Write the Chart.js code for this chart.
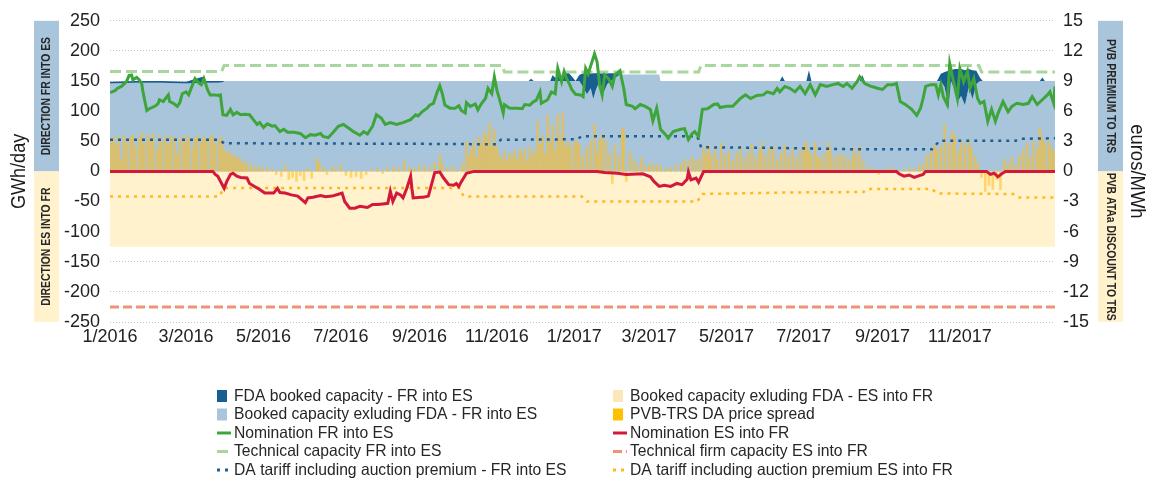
<!DOCTYPE html>
<html>
<head>
<meta charset="utf-8">
<script src="https://cdn.jsdelivr.net/npm/chart.js@4/dist/chart.umd.min.js"></script>
<style>
  html, body { margin: 0; padding: 0; background: #fff; }
</style>
</head>
<body>
<canvas id="chart" width="1151" height="482"></canvas>
<script>
const FONT = '"Liberation Sans", Arial, sans-serif';

// x values are days counted from 1 January 2016
const lastDay = 745;
const monthTickDays = [0, 60, 121, 182, 244, 305, 366, 425, 486, 547, 609, 670];
const monthTickLabels = ['1/2016', '3/2016', '5/2016', '7/2016', '9/2016', '11/2016',
  '1/2017', '3/2017', '5/2017', '7/2017', '9/2017', '11/2017'];

// GWh/day
const nominationFrEs = [[0,131],[4,134],[6,138],[9,141],[13,149],[15,159],[17,160],[18,152],[21,156],[23,152],[25,146],[26,132],[29,101],[31,104],[36,109],[38,113],[39,119],[42,116],[46,127],[47,116],[50,113],[53,108],[55,114],[57,129],[60,132],[62,127],[64,138],[67,154],[70,147],[72,144],[74,154],[77,135],[79,127],[83,127],[85,126],[87,127],[89,94],[92,93],[95,103],[97,94],[100,98],[103,94],[106,95],[110,94],[113,86],[116,78],[118,81],[121,73],[124,79],[128,75],[130,76],[134,66],[137,70],[140,65],[145,65],[150,63],[154,56],[158,61],[162,60],[166,63],[168,58],[172,56],[176,65],[180,75],[184,78],[188,72],[192,66],[197,60],[200,66],[203,62],[207,75],[210,94],[214,88],[217,78],[221,81],[226,78],[231,81],[237,86],[241,94],[243,92],[246,99],[250,105],[252,110],[255,113],[258,132],[260,142],[262,129],[264,110],[268,105],[272,105],[275,109],[277,101],[280,97],[281,114],[284,108],[288,112],[290,102],[293,113],[296,121],[298,138],[301,129],[303,157],[305,135],[308,113],[310,97],[311,111],[315,105],[321,105],[325,104],[327,111],[331,110],[334,116],[336,118],[339,132],[340,113],[345,119],[348,132],[351,129],[353,171],[356,149],[358,166],[360,154],[362,146],[364,136],[367,128],[371,127],[373,124],[375,171],[377,162],[380,182],[382,195],[384,182],[386,144],[388,127],[390,160],[393,154],[396,141],[398,160],[402,167],[405,138],[407,111],[412,108],[414,104],[418,111],[422,108],[426,103],[428,84],[431,105],[434,70],[438,61],[440,55],[444,66],[450,70],[453,71],[456,53],[459,63],[461,66],[464,58],[467,103],[471,104],[476,111],[479,112],[481,106],[486,108],[491,108],[497,121],[501,127],[505,121],[510,126],[515,127],[518,132],[523,129],[526,138],[528,132],[532,141],[536,138],[540,132],[544,141],[548,129],[552,144],[556,127],[560,144],[565,141],[570,144],[574,146],[578,141],[581,146],[585,138],[589,149],[591,157],[595,146],[599,142],[605,138],[609,136],[613,144],[617,144],[620,146],[623,116],[627,111],[629,108],[632,103],[636,93],[639,105],[641,121],[643,141],[647,144],[651,144],[653,127],[655,144],[657,124],[660,111],[662,179],[665,149],[668,121],[670,171],[673,149],[676,166],[678,138],[681,154],[684,121],[686,113],[689,116],[692,83],[695,103],[698,83],[700,96],[704,116],[708,99],[711,108],[715,113],[720,111],[724,113],[727,124],[731,111],[735,119],[739,127],[741,132],[744,113],[745,141]];

const nominationEsFr = [[0,0],[81,0],[83,-5],[85,-8],[90,-28],[92,-17],[95,-5],[97,-3],[100,-8],[103,-10],[108,-11],[110,-20],[114,-25],[118,-30],[122,-36],[129,-36],[132,-28],[134,-35],[138,-36],[143,-39],[148,-41],[154,-52],[156,-44],[160,-43],[166,-40],[170,-42],[175,-41],[180,-38],[183,-36],[185,-50],[189,-61],[193,-61],[197,-58],[203,-60],[207,-55],[211,-55],[215,-54],[219,-53],[221,-33],[223,-50],[226,-36],[229,-39],[231,-44],[234,-28],[237,-8],[238,-28],[239,-44],[245,-43],[247,-43],[251,-41],[256,-2],[260,-1],[263,-11],[267,-22],[271,-23],[273,-20],[275,-25],[277,-17],[281,-3],[287,0],[384,0],[390,-2],[400,-3],[407,-5],[420,-4],[426,-9],[429,-17],[433,-25],[437,-23],[442,-25],[447,-20],[451,-22],[455,-13],[456,-1],[458,-14],[462,-11],[464,-18],[468,0],[620,0],[622,-4],[626,-8],[630,-6],[634,-10],[638,-7],[641,-5],[643,0],[691,0],[694,-5],[697,-3],[700,-9],[703,-4],[706,0],[745,0]];

const technicalFrEs = [[0,166],[88,166],[90,176],[309,176],[311,165],[464,165],[466,176],[685,176],[687,165],[745,165]];
const technicalFirmEsFr = [[0,-225],[745,-225]];

// booked capacity FR into ES, split into the part without FDA and the FDA part
const bookedDays   = [0,  20,  40,  60,  73,  76,  85,  89,  90,  330, 332, 334, 347, 349, 351, 353, 356, 358, 361, 364, 367, 370, 373, 376, 379, 381, 383, 386, 389, 392, 395, 398, 402, 433, 434, 528, 530, 532, 549, 551, 553, 591, 593, 595, 652, 655, 658, 661, 663, 666, 668, 671, 674, 677, 680, 683, 686, 688, 733, 735, 737, 745];
const bookedExFda  = [146, 147, 147, 146, 147, 147, 147, 148, 150, 150, 150, 150, 150, 150, 150, 150, 150, 150, 150, 150, 150, 150, 140, 128, 138, 120, 135, 150, 130, 145, 150, 155, 161, 161, 150, 150, 150, 150, 150, 150, 150, 150, 150, 150, 150, 150, 140, 105, 150, 135, 115, 125, 110, 140, 120, 145, 150, 150, 150, 150, 150, 150];
const fdaBooked    = [3,   3,   3,   3,   10,  3,   3,   2,   0,   0,   4,   0,   0,   10,  5,   12,  8,   14,  15,  8,   0,   10,  23,  35,  25,  43,  28,  13,  33,  18,  13,  8,   0,   0,   0,   0,   8,   0,   0,   18,  0,   0,   10,  0,   0,   12,  25,  62,  18,  35,  55,  45,  58,  30,  48,  22,  5,   0,   0,   6,   0,   0];

// booked capacity ES into FR, without FDA
const bookedEsFr = [[0,-125],[745,-125]];

// euros/MWh
const tariffFrEs = [[0,3.15],[86,3.15],[90,2.8],[240,2.75],[305,2.7],[308,3.15],[368,3.2],[372,3.5],[463,3.5],[466,2.4],[520,2.35],[590,2.2],[648,2.2],[654,3.05],[714,3.05],[718,3.25],[745,3.3]];
const tariffEsFr = [[0,-2.5],[86,-2.5],[90,-1.65],[275,-1.65],[279,-2.5],[372,-2.5],[376,-3.0],[463,-3.0],[467,-2.25],[536,-2.1],[594,-2.05],[597,-1.75],[648,-1.75],[652,-2.2],[712,-2.25],[716,-2.6],[745,-2.6]];

const priceSpread = [
  [1,3.0],[3,3.4],[5,2.6],[7,3.5],[9,1.2],[11,3.6],[13,2.9],[16,3.3],[18,3.7],[20,2.5],[23,3.4],[25,3.9],[27,2.8],[30,3.6],[32,3.3],[34,3.8],[37,2.2],[39,3.5],[41,3.0],[44,3.6],[46,2.7],[48,3.4],[51,3.5],[53,1.8],[55,3.2],[58,3.6],[60,3.0],[62,3.5],[65,2.4],[67,3.3],[69,3.6],[72,2.9],[74,3.5],[76,3.1],[79,3.4],[81,3.6],[83,2.8],[86,3.2],[88,3.4],
  [90,2.2],[92,1.8],[94,2.0],[96,1.5],[98,1.7],[100,1.2],[102,1.4],[104,0.9],[106,1.0],[108,0.6],[111,0.8],[114,0.4],[117,0.5],[120,0.3],[124,0.4],[128,0.2],[131,-0.3],[135,-0.5],[138,0.6],[141,-0.8],[144,-0.6],[147,-1.0],[150,-0.4],[153,-0.9],[156,0.3],[159,-0.7],[163,1.3],[165,0.9],[168,0.4],[171,-0.3],[175,0.5],[178,0.2],[182,0.6],
  [186,-0.4],[190,-0.6],[194,-0.5],[198,-0.7],[202,-0.3],[206,0.2],[211,0.3],[215,-0.2],[219,0.4],[224,0.5],[228,0.3],[232,1.0],[236,0.4],[240,0.3],[244,0.6],[248,0.5],[252,0.4],[256,0.9],[260,1.7],[262,0.8],[266,0.3],[270,0.5],[274,0.2],[278,0.8],
  [281,2.9],[283,1.6],[285,2.4],[287,3.0],[289,1.4],[291,3.4],[293,2.8],[295,4.0],[297,3.5],[299,4.8],[301,2.6],[303,4.2],[305,2.5],[307,1.6],[309,1.2],[311,2.0],[313,1.0],[315,1.8],[317,1.4],[319,2.1],[321,1.2],[323,2.2],[325,1.6],[327,2.3],[329,1.0],[331,2.4],[333,1.5],[335,2.0],[337,5.0],[339,2.7],[341,3.6],[343,1.8],[345,5.6],[347,3.0],[349,4.6],[351,2.2],[353,5.7],[355,3.4],[357,5.8],[359,2.6],[361,3.0],[363,2.4],
  [366,2.9],[368,3.1],[370,2.7],[373,1.6],[376,2.4],[379,3.0],[382,4.7],[384,2.0],[386,3.2],[388,3.7],[391,3.0],[394,1.8],[396,-1.2],[398,2.6],[401,1.5],[404,4.3],[405,4.0],[407,-1.0],[410,2.0],[413,1.2],[416,0.6],[419,1.4],[422,0.5],[425,0.8],[428,0.6],[431,0.7],[434,0.5],[438,0.3],[442,0.4],[446,0.6],[450,0.8],[453,1.2],[456,1.0],[459,1.4],[462,1.1],[465,1.3],[468,2.4],[470,1.8],[472,2.6],[474,1.5],[477,2.2],[479,1.2],[482,2.8],[485,1.6],[488,2.0],[491,1.1],[494,1.8],[497,2.5],[500,1.3],[503,1.9],[506,2.7],[509,1.4],[512,2.1],[514,2.9],[517,1.6],[520,2.3],[523,2.5],[526,1.2],[529,1.9],[532,2.6],[535,1.5],[538,2.2],[541,1.3],[544,2.0],
  [547,2.6],[549,3.0],[551,2.1],[553,1.6],[556,2.9],[558,1.5],[560,1.2],[563,1.8],[566,2.9],[568,2.3],[571,1.4],[574,1.6],[577,1.8],[580,1.4],[583,1.2],[586,2.3],[588,1.6],[591,2.5],[594,1.0],[598,0.4],[602,0.3],[606,-0.3],[610,0.2],[614,0.4],[618,0.3],[622,-0.2],[626,0.2],[630,0.4],[634,0.3],[638,0.6],[641,0.8],[644,1.6],[647,1.9],[650,2.6],[652,2.2],[655,2.5],[658,4.7],[661,2.8],[664,4.0],[666,3.6],[669,2.0],[671,3.0],[674,2.6],[677,3.2],[679,2.4],[682,1.5],[684,0.8],[687,-0.6],[690,-2.0],[693,-1.4],[696,-1.8],[699,-0.8],[702,-1.8],[705,1.2],[708,0.8],[711,1.4],[714,0.6],[717,1.6],[720,2.2],[723,2.8],[725,1.4],[728,3.0],[731,2.2],[733,4.3],[735,3.5],[737,2.8],[740,3.0],[742,2.4],[744,2.0]
];

const toXY = pairs => pairs.map(([x, y]) => ({ x, y }));
const bookedTotal = bookedDays.map((d, i) => ({ x: d, y: bookedExFda[i] + fdaBooked[i] }));
const bookedBase = bookedDays.map((d, i) => ({ x: d, y: bookedExFda[i] }));

const lineBase = { type: 'line', pointRadius: 0, tension: 0, fill: false, borderWidth: 3 };
const areaBase = { type: 'line', pointRadius: 0, tension: 0, borderWidth: 0 };

const datasets = [
  { ...lineBase, key: 'nomFrEs', label: 'Nomination FR into ES', data: toXY(nominationFrEs),
    borderColor: '#3ea53b', yAxisID: 'y', order: 1 },
  { ...lineBase, key: 'nomEsFr', label: 'Nomination ES into FR', data: toXY(nominationEsFr),
    borderColor: '#d2183b', yAxisID: 'y', order: 1 },
  { ...lineBase, key: 'techFrEs', label: 'Technical capacity FR into ES', data: toXY(technicalFrEs),
    borderColor: '#a9d69c', borderDash: [11, 5], yAxisID: 'y', order: 2 },
  { ...lineBase, key: 'techEsFr', label: 'Technical firm capacity ES into FR', data: toXY(technicalFirmEsFr),
    borderColor: '#ef9378', borderDash: [9, 4], yAxisID: 'y', order: 2 },
  { ...lineBase, key: 'tariffFrEs', label: 'DA tariff including auction premium - FR into ES', data: toXY(tariffFrEs),
    borderColor: '#1d5f92', borderDash: [3, 5], borderWidth: 2.5, yAxisID: 'y1', order: 2 },
  { ...lineBase, key: 'tariffEsFr', label: 'DA tariff including auction premium ES into FR', data: toXY(tariffEsFr),
    borderColor: '#ffb820', borderDash: [3, 5], borderWidth: 2.5, yAxisID: 'y1', order: 2 },
  { type: 'bar', key: 'spread', label: 'PVB-TRS DA price spread', data: toXY(priceSpread),
    backgroundColor: 'rgba(255, 188, 24, 0.55)', legendColor: '#ffc000',
    barThickness: 2, grouped: false, yAxisID: 'y1', order: 5 },
  { ...areaBase, key: 'bookedFrEs', label: 'Booked capacity exluding FDA - FR into ES', data: bookedBase,
    backgroundColor: '#a9c5dc', fill: 'origin', yAxisID: 'y', order: 8 },
  { ...areaBase, key: 'fda', label: 'FDA booked capacity - FR into ES', data: bookedTotal,
    backgroundColor: '#175f91', fill: '-1', yAxisID: 'y', order: 7 },
  { ...areaBase, key: 'bookedEsFr', label: 'Booked capacity exluding FDA - ES into FR', data: toXY(bookedEsFr),
    backgroundColor: '#fff2cc', legendColor: '#fde6bb', fill: 'origin', yAxisID: 'y', order: 9 }
];

// two-column legend under the plot
const legendRows = [
  ['fda', 'bookedEsFr'],
  ['bookedFrEs', 'spread'],
  ['nomFrEs', 'nomEsFr'],
  ['techFrEs', 'techEsFr'],
  ['tariffFrEs', 'tariffEsFr']
];

// rotated text, squeezed along its own direction to get a narrow face
function narrowText(ctx, text, x, y, rot, squeeze) {
  ctx.save();
  ctx.translate(x, y);
  ctx.rotate(rot);
  ctx.scale(squeeze, 1);
  ctx.fillText(text, 0, 0);
  ctx.restore();
}

const sideDecor = {
  id: 'sideDecor',
  afterDraw(chart) {
    const { ctx, scales: { y } } = chart;
    const top = y.getPixelForValue(y.max);
    const zero = y.getPixelForValue(0);
    const bottom = y.getPixelForValue(y.min);

    const band = (x, w, upper, lower, rot) => {
      ctx.fillStyle = '#a9c5dc';
      ctx.fillRect(x, top, w, zero - top);
      ctx.fillStyle = '#fff2cc';
      ctx.fillRect(x, zero, w, bottom - zero);
      ctx.fillStyle = '#262626';
      ctx.font = 'bold 13px ' + FONT;
      ctx.textAlign = 'center';
      ctx.textBaseline = 'middle';
      narrowText(ctx, upper, x + w / 2, (top + zero) / 2, rot, 0.8);
      narrowText(ctx, lower, x + w / 2, (zero + bottom) / 2, rot, 0.8);
    };
    band(34, 25, 'DIRECTION FR INTO ES', 'DIRECTION ES INTO FR', -Math.PI / 2);
    band(1098, 25, 'PVB PREMIUM TO TRS', 'PVB ATAa DISCOUNT TO TRS', Math.PI / 2);

    ctx.fillStyle = '#1a1a1a';
    ctx.font = '21px ' + FONT;
    ctx.textAlign = 'center';
    ctx.textBaseline = 'middle';
    const mid = (top + bottom) / 2;
    narrowText(ctx, 'GWh/day', 19, mid, -Math.PI / 2, 0.86);
    narrowText(ctx, 'euros/MWh', 1137, mid, Math.PI / 2, 0.88);

    // legend
    const colX = [217, 613];
    const rowY0 = 396, rowStep = 18.5;
    ctx.font = '16.5px ' + FONT;
    ctx.textBaseline = 'middle';
    legendRows.forEach((row, r) => {
      row.forEach((key, c) => {
        const ds = chart.data.datasets.find(d => d.key === key);
        const x = colX[c], cy = rowY0 + r * rowStep;
        ctx.save();
        if (ds.type === 'bar' || ds.fill) {
          ctx.fillStyle = ds.legendColor || ds.backgroundColor;
          ctx.fillRect(x, cy - 6, 10, 12);
        } else {
          ctx.strokeStyle = ds.borderColor;
          ctx.lineWidth = 3;
          ctx.setLineDash(ds.borderDash || []);
          ctx.beginPath();
          ctx.moveTo(x, cy);
          ctx.lineTo(x + 14, cy);
          ctx.stroke();
        }
        ctx.restore();
        ctx.fillStyle = '#262626';
        ctx.textAlign = 'left';
        narrowText(ctx, ds.label, x + 17, cy, 0, 0.95);
      });
    });
  }
};

new Chart(document.getElementById('chart'), {
  type: 'line',
  data: { datasets },
  options: {
    responsive: false,
    animation: false,
    events: [],
    layout: { padding: { top: 20, left: 0, right: 0, bottom: 0 } },
    plugins: {
      legend: { display: false },
      tooltip: { enabled: false }
    },
    scales: {
      x: {
        type: 'linear',
        min: 0,
        max: lastDay,
        offset: false,
        grid: { display: false, drawTicks: false },
        border: { display: false },
        afterFit: scale => { scale.height = 160; },
        afterBuildTicks: scale => { scale.ticks = monthTickDays.map(v => ({ value: v })); },
        ticks: {
          autoSkip: false,
          maxRotation: 0,
          padding: 4,
          color: '#222',
          font: { family: FONT, size: 18 },
          callback: (value, index) => monthTickLabels[index]
        }
      },
      y: {
        position: 'left',
        min: -250,
        max: 250,
        afterFit: scale => { scale.width = 110; },
        grid: { color: '#c4c4c4', lineWidth: 1, drawTicks: false },
        border: { display: false, dash: [1, 2] },
        ticks: { stepSize: 50, padding: 10, color: '#222', font: { family: FONT, size: 18 } }
      },
      y1: {
        position: 'right',
        min: -15,
        max: 15,
        afterFit: scale => { scale.width = 96; },
        grid: { display: false, drawTicks: false },
        border: { display: false },
        ticks: { stepSize: 3, padding: 8, color: '#222', font: { family: FONT, size: 18 } }
      }
    }
  },
  plugins: [sideDecor]
});
</script>
</body>
</html>
